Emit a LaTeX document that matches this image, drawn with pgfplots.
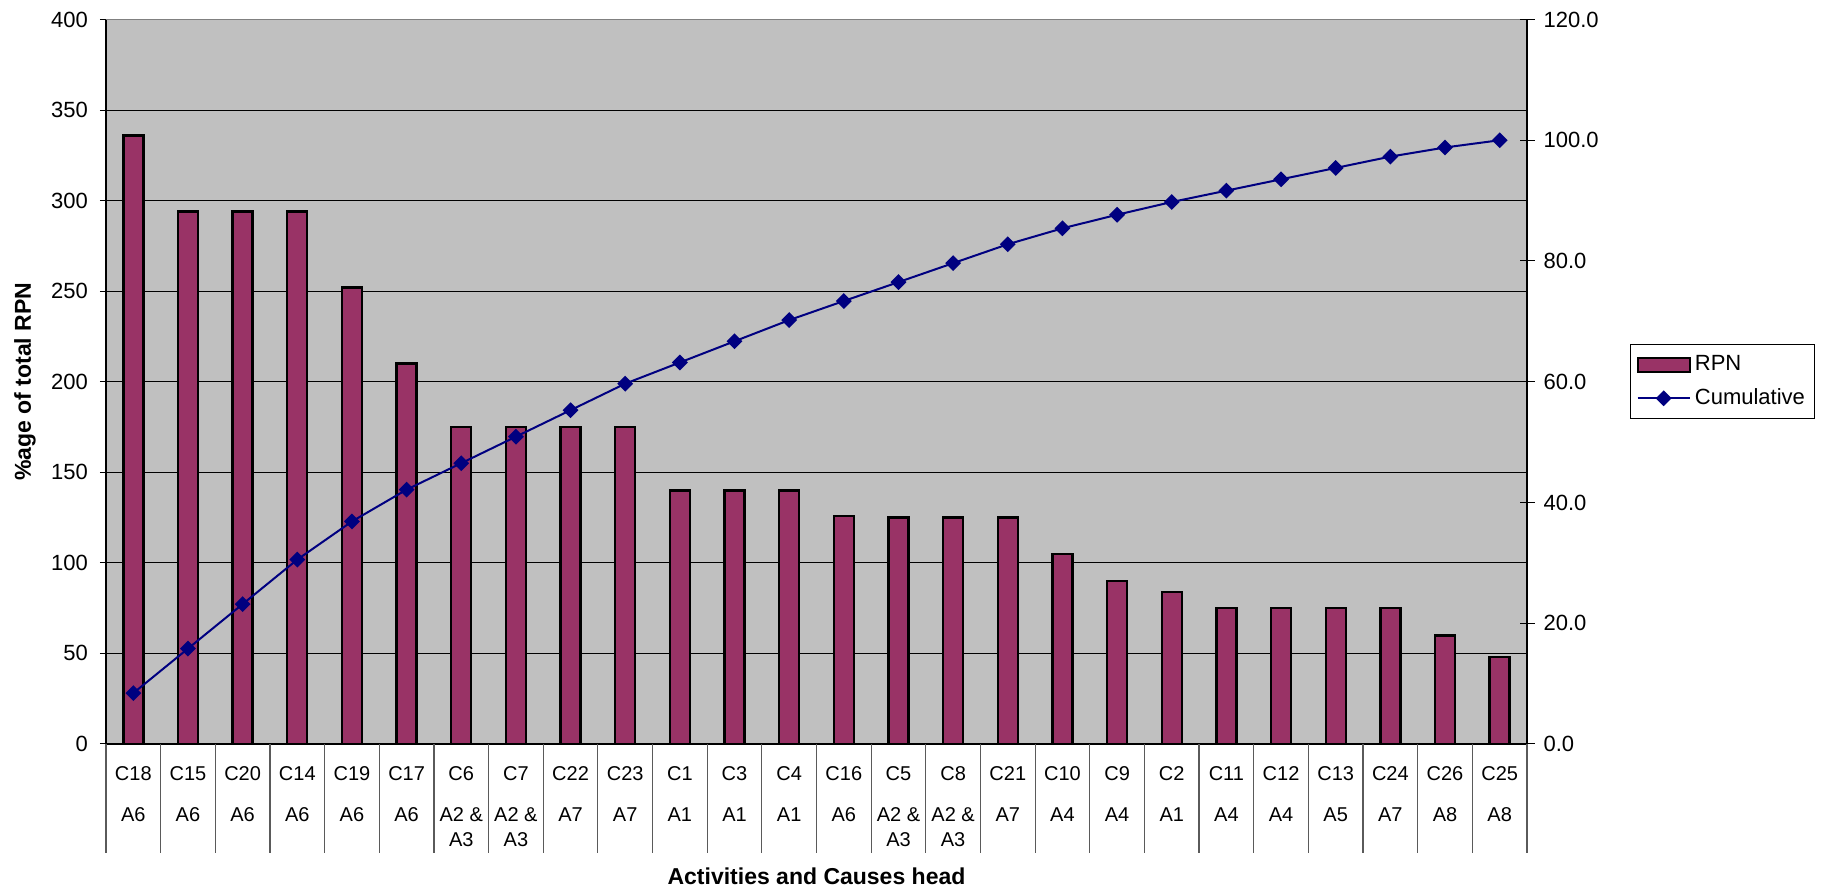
\documentclass[border=0pt]{standalone}
\usepackage{pgfplots}
\pgfplotsset{compat=1.18}
\usepackage{pgfplotstable}
\usepackage{fontspec}
\setmainfont{Liberation Sans}

\definecolor{rpnbar}{HTML}{993366}
\definecolor{plotbg}{HTML}{C0C0C0}
\definecolor{cumline}{HTML}{000080}
\definecolor{sepgray}{HTML}{808080}

% RPN per cause (sorted) and cumulative share in percent
\pgfplotstableread{
x  rpn  cum
0  336  8.43
1  294  15.80
2  294  23.17
3  294  30.54
4  252  36.86
5  210  42.13
6  175  46.51
7  175  50.90
8  175  55.29
9  175  59.68
10 140  63.19
11 140  66.70
12 140  70.21
13 126  73.37
14 125  76.50
15 125  79.64
16 125  82.77
17 105  85.41
18 90   87.66
19 84   89.77
20 75   91.65
21 75   93.53
22 75   95.41
23 75   97.29
24 60   98.80
25 48   100.00
}\paretodata

\pgfplotsset{
  paretoframe/.style={
    scale only axis, width=710.5pt, height=362.25pt,
    at={(53pt,74pt)}, anchor=south west,
    xmin=-0.5, xmax=25.5,
    /pgf/number format/assume math mode=true,
    tick style={black, line width=0.5pt},
    yticklabel style={font=\fontsize{11}{13}\selectfont},
  },
}

\begin{document}
\begin{tikzpicture}
\path[use as bounding box] (0,0) rectangle (916pt,446pt);

% bars: RPN on the left axis
\begin{axis}[paretoframe,
  ymin=0, ymax=400, ytick={0,50,...,400},
  axis x line*=bottom, axis y line*=left,
  axis line style={-, black, line width=0.8pt},
  axis background/.style={fill=plotbg},
  ymajorgrids, grid style={black, line width=0.5pt},
  tick align=outside, major tick length=3pt,
  major x tick style={draw=none},
  xtick={0,...,25},
  xticklabels={
    {C18\\[8pt]A6},{C15\\[8pt]A6},{C20\\[8pt]A6},{C14\\[8pt]A6},
    {C19\\[8pt]A6},{C17\\[8pt]A6},{C6\\[8pt]A2 \&\\A3},{C7\\[8pt]A2 \&\\A3},
    {C22\\[8pt]A7},{C23\\[8pt]A7},{C1\\[8pt]A1},{C3\\[8pt]A1},
    {C4\\[8pt]A1},{C16\\[8pt]A6},{C5\\[8pt]A2 \&\\A3},{C8\\[8pt]A2 \&\\A3},
    {C21\\[8pt]A7},{C10\\[8pt]A4},{C9\\[8pt]A4},{C2\\[8pt]A1},
    {C11\\[8pt]A4},{C12\\[8pt]A4},{C13\\[8pt]A5},{C24\\[8pt]A7},
    {C26\\[8pt]A8},{C25\\[8pt]A8}},
  x tick label style={font=\fontsize{10}{12.5}\selectfont, align=center,
    anchor=north, yshift=-4.5pt},
  yticklabel style={xshift=-2.5pt},
  xlabel={Activities and Causes head},
  xlabel style={at={(axis description cs:0.5,0)}, anchor=base,
    yshift=-70.5pt, font=\fontsize{11.5}{13}\selectfont\bfseries},
  ylabel={\%age of total RPN},
  ylabel style={at={(axis description cs:0,0.5)}, anchor=center,
    yshift=40.5pt, font=\fontsize{11.5}{13}\selectfont\bfseries},
  clip=false,
]
\addplot[ybar, bar width=10pt, fill=rpnbar, draw=black, line width=1.2pt]
  table[x=x, y=rpn] {\paretodata};
\draw[sepgray, line width=0.8pt] (rel axis cs:0,1) -- (rel axis cs:1,1);
% separators between the category label cells
\pgfplotsinvokeforeach{-0.5,0.5,1.5,2.5,3.5,4.5,5.5,6.5,7.5,8.5,9.5,10.5,11.5,12.5,13.5,14.5,15.5,16.5,17.5,18.5,19.5,20.5,21.5,22.5,23.5,24.5,25.5}{
  \draw[sepgray!70!black, line width=0.6pt] (axis cs:#1,0) -- ++(0pt,-54.5pt);
}
\end{axis}

% cumulative percentage on the right axis
\begin{axis}[paretoframe,
  ymin=0, ymax=120, ytick={0,20,...,120},
  axis x line=none, axis y line*=right,
  axis line style={-, black, line width=0.8pt},
  tick align=center, major tick length=7.5pt,
  yticklabel style={xshift=1pt, /pgf/number format/.cd, fixed, fixed zerofill, precision=1},
  legend cell align=left,
  legend style={at={(1,0.5)}, anchor=west, xshift=51.5pt,
    draw=black, line width=0.5pt, fill=white,
    font=\fontsize{11}{13}\selectfont,
    inner xsep=3pt, inner ysep=3.5pt, row sep=3.5pt},
  legend image code/.code={
    \draw[mark repeat=2, mark phase=2, #1]
      plot coordinates {(0pt,0pt) (13pt,0pt) (26pt,0pt)};},
]
\addlegendimage{legend image code/.code={
  \draw[fill=rpnbar, draw=black, line width=1.2pt] (0pt,-3.5pt) rectangle (26pt,3.5pt);}}
\addlegendentry{RPN}
\addplot[cumline, line width=1pt, mark=square*, mark size=2.3pt,
  mark options={rotate=45, solid, fill=cumline}]
  table[x=x, y=cum] {\paretodata};
\addlegendentry{Cumulative}
\end{axis}
\end{tikzpicture}
\end{document}
